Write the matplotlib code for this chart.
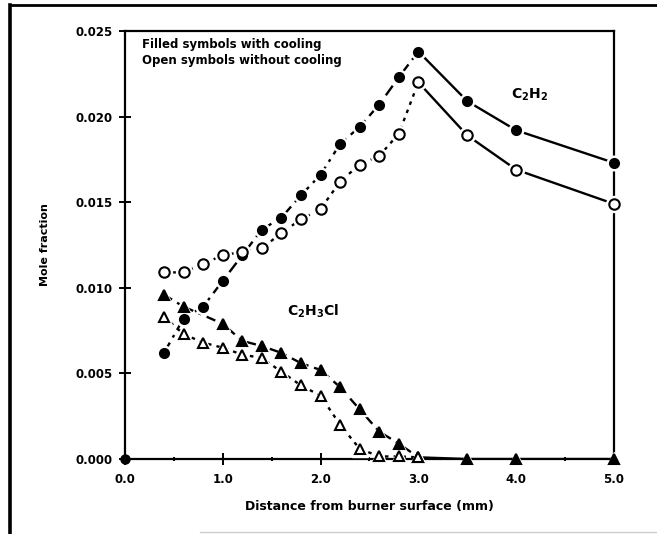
import matplotlib
matplotlib.use("Agg")
import matplotlib.pyplot as plt
from matplotlib.lines import Line2D

# ---- data (mole fraction x 1e-3) ----
c2h2_cool_x = [0.4, 0.6, 0.8, 1.0, 1.2, 1.4, 1.6, 1.8, 2.0, 2.2, 2.4, 2.6, 2.8, 3.0, 3.5, 4.0, 5.0]
c2h2_cool_y = [6.2, 8.2, 8.9, 10.4, 11.9, 13.4, 14.1, 15.4, 16.6, 18.4, 19.4, 20.7, 22.3, 23.8, 20.9, 19.2, 17.3]

c2h2_open_x = [0.4, 0.6, 0.8, 1.0, 1.2, 1.4, 1.6, 1.8, 2.0, 2.2, 2.4, 2.6, 2.8, 3.0, 3.5, 4.0, 5.0]
c2h2_open_y = [10.9, 10.9, 11.4, 11.9, 12.1, 12.3, 13.2, 14.0, 14.6, 16.2, 17.2, 17.7, 19.0, 22.0, 18.9, 16.9, 14.9]

c2h3cl_cool_x = [0.4, 0.6, 1.0, 1.2, 1.4, 1.6, 1.8, 2.0, 2.2, 2.4, 2.6, 2.8, 3.0, 3.5, 4.0, 5.0]
c2h3cl_cool_y = [9.6, 8.9, 7.9, 6.9, 6.6, 6.2, 5.6, 5.2, 4.2, 2.9, 1.6, 0.9, 0.1, 0.0, 0.0, 0.0]

c2h3cl_open_x = [0.4, 0.6, 0.8, 1.0, 1.2, 1.4, 1.6, 1.8, 2.0, 2.2, 2.4, 2.6, 2.8, 3.0]
c2h3cl_open_y = [8.3, 7.3, 6.8, 6.5, 6.1, 5.9, 5.1, 4.3, 3.7, 2.0, 0.6, 0.15, 0.15, 0.1]

origin_x = [0.0]
origin_y = [0.0]

x_ticks = [0.0, 1.0, 2.0, 3.0, 4.0, 5.0]
x_tick_labels = ["0.0", "1.0", "2.0", "3.0", "4.0", "5.0"]
y_ticks = [0.000, 0.005, 0.010, 0.015, 0.020, 0.025]
y_tick_labels = ["0.000", "0.005", "0.010", "0.015", "0.020", "0.025"]

SCALE = 1e-3

fig = plt.figure(figsize=(6.57, 5.34), dpi=100)
ax = fig.add_axes([0.190, 0.1404, 0.7446, 0.8016])

FONT = dict(family="DejaVu Sans", fontweight="bold")


def scaled(v):
    return [a * SCALE for a in v]


def draw_series(xs, ys, marker, filled, split_at, dash_early, ms):
    ys = scaled(ys)
    idx = [i for i, x in enumerate(xs) if x <= split_at]
    late = [i for i, x in enumerate(xs) if x >= split_at]
    ax.plot([xs[i] for i in idx], [ys[i] for i in idx], color="black", lw=1.7,
            dashes=dash_early, zorder=2, solid_capstyle="butt", dash_capstyle="butt")
    if len(late) > 1:
        ax.plot([xs[i] for i in late], [ys[i] for i in late], color="black", lw=1.7,
                linestyle="-", zorder=2)
    # white halo to produce gaps around markers
    ax.plot(xs, ys, linestyle="none", marker=marker, ms=ms + 4, mfc="white",
            mec="white", zorder=3, clip_on=False)
    ax.plot(xs, ys, linestyle="none", marker=marker, ms=ms,
            mfc="black" if filled else "white", mec="black", mew=1.5,
            zorder=4, clip_on=False)


draw_series(c2h2_cool_x, c2h2_cool_y, "o", True, 3.0, (5, 2.5, 1.2, 2.5), 6.5)
draw_series(c2h2_open_x, c2h2_open_y, "o", False, 3.0, (1.5, 2.2), 7.5)
draw_series(c2h3cl_cool_x, c2h3cl_cool_y, "^", True, 3.0, (4, 2.5, 1.2, 2.5), 6.5)
draw_series(c2h3cl_open_x, c2h3cl_open_y, "^", False, 3.0, (1.5, 2.2, 1.5, 2.2), 7)

ax.plot(origin_x, scaled(origin_y), linestyle="none", marker="o", ms=6.5,
        mfc="black", mec="black", zorder=5, clip_on=False)

ax.set_xlim(0.0, 5.0)
ax.set_ylim(0.0, 0.025)
ax.set_xticks(x_ticks)
ax.set_xticklabels(x_tick_labels, **FONT, fontsize=8.5)
ax.set_yticks(y_ticks)
ax.set_yticklabels(y_tick_labels, **FONT, fontsize=8.5)
ax.set_xticks([0.5, 1.5, 2.5, 3.5, 4.5], minor=True)
ax.tick_params(axis="both", which="major", direction="inout", length=8, width=1.4, pad=5)
ax.tick_params(axis="x", which="major", pad=6)
ax.tick_params(axis="x", which="minor", direction="inout", length=3, width=1.4)
for s in ax.spines.values():
    s.set_linewidth(1.6)

ax.set_xlabel("Distance from burner surface (mm)", **FONT, fontsize=9, labelpad=10)
ax.set_ylabel("Mole fraction", **FONT, fontsize=8, labelpad=18)

ax.text(0.18, 0.0242, "Filled symbols with cooling", **FONT, fontsize=8.5,
        ha="left", va="center")
ax.text(0.18, 0.0233, "Open symbols without cooling", **FONT, fontsize=8.5,
        ha="left", va="center")
ax.text(3.95, 0.0213, r"$\mathbf{C_2H_2}$", fontsize=10, ha="left", va="center")
ax.text(1.66, 0.0086, r"$\mathbf{C_2H_3Cl}$", fontsize=10, ha="left", va="center")

# outer frame of the scanned figure
fig.add_artist(Line2D([10 / 657, 10 / 657], [0, 1 - 5 / 534], transform=fig.transFigure,
                      color="black", lw=2.6))
fig.add_artist(Line2D([10 / 657, 1], [1 - 5 / 534, 1 - 5 / 534], transform=fig.transFigure,
                      color="black", lw=2.0))
fig.add_artist(Line2D([200 / 657, 1], [1 - 532 / 534, 1 - 532 / 534], transform=fig.transFigure,
                      color="#cccccc", lw=1.0))

fig.savefig("out.png", dpi=100, facecolor="white")
